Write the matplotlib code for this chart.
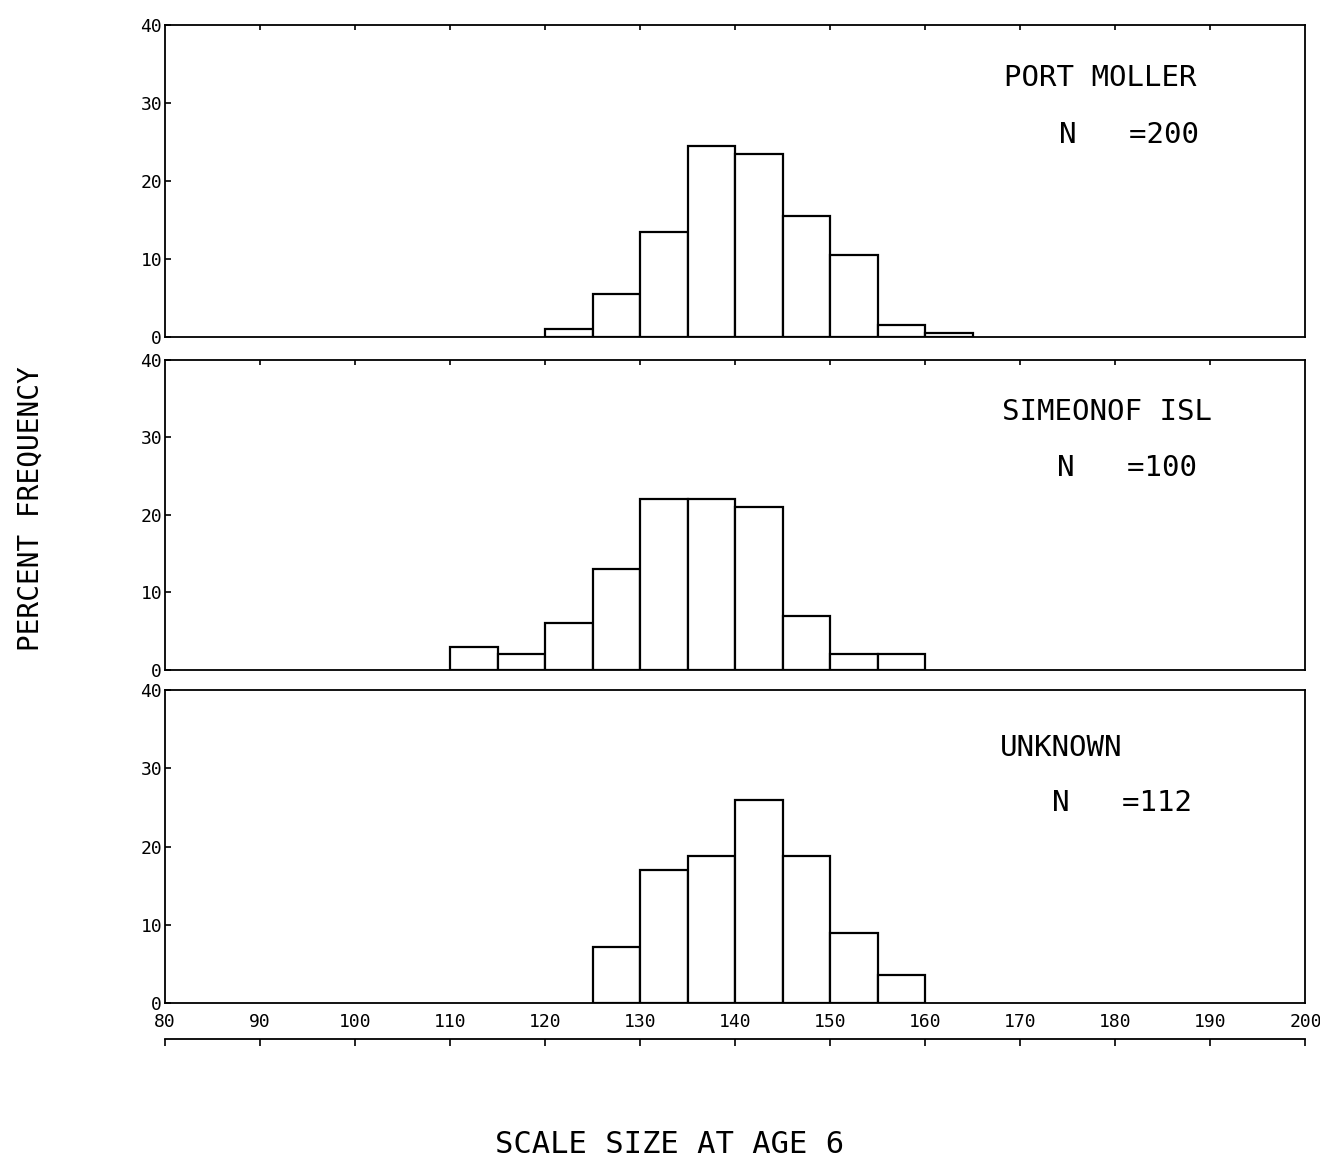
import numpy as np
import matplotlib
matplotlib.use('Agg')
import matplotlib.pyplot as plt


# bin edges of the scale size classes (width 5)
BIN_W = 5

# port moller, N = 200
PM_LEFT = [120, 125, 130, 135, 140, 145, 150, 155, 160]
PM_PCT = [1.0, 5.5, 13.5, 24.5, 23.5, 15.5, 10.5, 1.5, 0.5]

# simeonof isl, N = 100
SI_LEFT = [110, 115, 120, 125, 130, 135, 140, 145, 150, 155]
SI_PCT = [3, 2, 6, 13, 22, 22, 21, 7, 2, 2]

# unknown, N = 112
UN_LEFT = [125, 130, 135, 140, 145, 150, 155]
UN_PCT = [7.1, 17.0, 18.8, 25.9, 18.8, 8.9, 3.6]

PANELS = [
    ('PORT MOLLER', 'N   =200', PM_LEFT, PM_PCT),
    ('SIMEONOF ISL', 'N   =100', SI_LEFT, SI_PCT),
    ('UNKNOWN', 'N   =112', UN_LEFT, UN_PCT),
]

XTICKS = list(range(80, 201, 10))
YTICKS = [0, 10, 20, 30, 40]

# axes rectangles [left, bottom, width, height] in figure fraction
LEFT, WIDTH = 0.125, 0.864
RECTS = [
    [LEFT, 0.7117, WIDTH, 0.2669],
    [LEFT, 0.4269, WIDTH, 0.2652],
    [LEFT, 0.1420, WIDTH, 0.2677],
]
# text anchors (axes fraction): name x, name y, N x, N y
TXT = [
    (0.736, 0.830, 0.784, 0.647),
    (0.734, 0.832, 0.782, 0.652),
    (0.732, 0.815, 0.778, 0.639),
]

plt.rcParams['font.family'] = ['DejaVu Sans Mono']

fig = plt.figure(figsize=(13.2, 11.69), dpi=100)

for iii, (name, nval, left, pct) in enumerate(PANELS):
    ax = fig.add_axes(RECTS[iii])
    ax.bar(left, pct, width=BIN_W, align='edge', color='white',
           edgecolor='black', linewidth=1.6, zorder=3)
    ax.set_xlim(80, 200)
    ax.set_ylim(0, 40)
    for sp in ax.spines.values():
        sp.set_linewidth(1.3)
    ax.set_yticks(YTICKS)
    ax.tick_params(axis='y', direction='in', length=4, width=1.2,
                   labelsize=13, pad=2)
    ax.set_xticks(XTICKS[1:-1])
    ax.tick_params(axis='x', which='both', top=True, bottom=False,
                   direction='in', length=3.5, width=1.2, labelbottom=False)
    # panel captions
    tx, ty, nx, ny = TXT[iii]
    ax.text(tx, ty, name, transform=ax.transAxes, fontsize=21,
            va='center', ha='left')
    ax.text(nx, ny, nval, transform=ax.transAxes, fontsize=21,
            va='center', ha='left')
    if iii == 2:
        ax.set_xticks(XTICKS)
        ax.tick_params(axis='x', bottom=True, length=0, labelbottom=True,
                       labelsize=13, pad=7)

# separate scale line below the bottom panel
axs = fig.add_axes([LEFT, 0.110, WIDTH, 0.001])
axs.set_xlim(80, 200)
axs.set_xticks(XTICKS)
axs.set_yticks([])
for key in ['left', 'right', 'bottom']:
    axs.spines[key].set_visible(False)
axs.spines['top'].set_linewidth(1.3)
axs.tick_params(axis='x', top=True, bottom=False, labelbottom=False,
                direction='in', length=5, width=1.2)
axs.patch.set_visible(False)

fig.text(0.023, 0.565, 'PERCENT FREQUENCY', rotation=90, fontsize=20,
         va='center', ha='center')
fig.text(0.507, 0.021, 'SCALE SIZE AT AGE 6', fontsize=22,
         va='center', ha='center')

plt.savefig('out.png', dpi=100)
